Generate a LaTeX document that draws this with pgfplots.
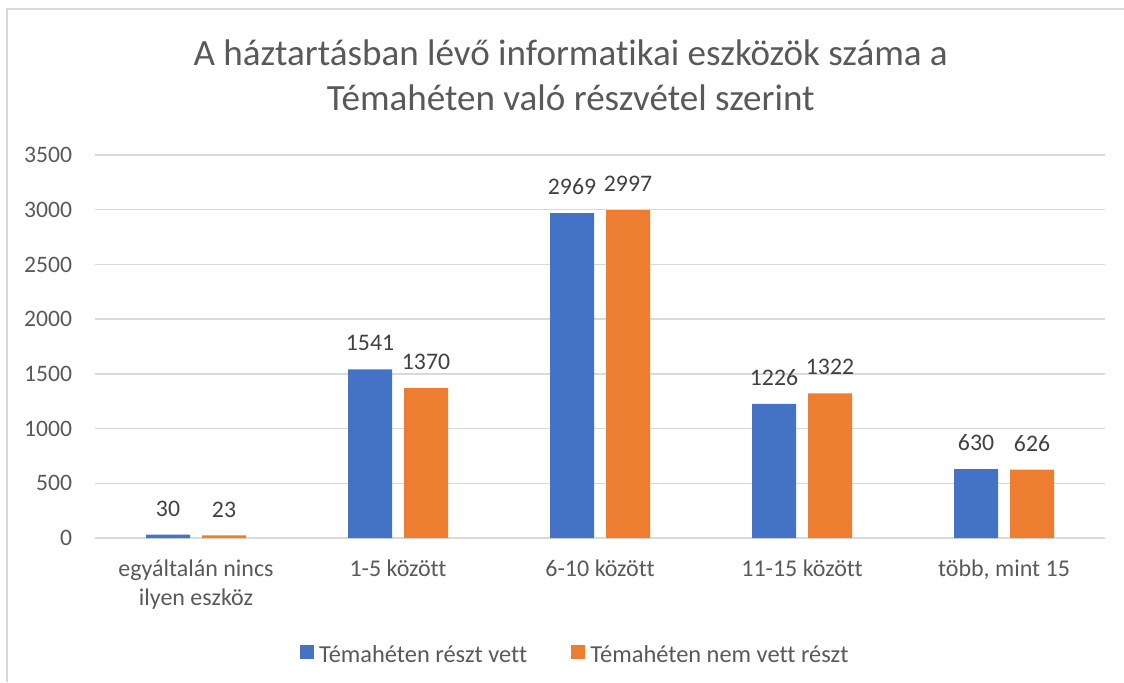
\documentclass[border=0pt]{standalone}
\usepackage{pgfplots}
\pgfplotsset{compat=1.18}
\usepackage{fontspec}
\setmainfont{Carlito}[Ligatures=NoCommon]
\definecolor{txt}{HTML}{595959}
\definecolor{lbl}{HTML}{404040}
\definecolor{grd}{HTML}{D9D9D9}
\definecolor{cblue}{HTML}{4472C4}
\definecolor{corange}{HTML}{ED7D31}
\begin{document}
\begin{tikzpicture}
\path[use as bounding box] (0pt,0pt) rectangle (843pt,-511.5pt);
\draw[grd, line width=1.5pt] (5.25pt,-511.5pt) -- (5.25pt,-6.75pt) -- (843pt,-6.75pt);
\node[anchor=base, text=txt, font=\fontsize{27.8}{32}\selectfont, inner sep=0pt] at (428pt,-48.75pt) {A háztartásban lévő informatikai eszközök száma a};
\node[anchor=base, text=txt, font=\fontsize{27.8}{32}\selectfont, inner sep=0pt] at (428pt,-82.5pt) {Témahéten való részvétel szerint};
\begin{axis}[
  at={(71.25pt,-403.5pt)}, anchor=south west,
  scale only axis, width=757.5pt, height=287.25pt,
  ymin=0, ymax=3500, ytick={0,500,...,3500},
  xmin=-0.5, xmax=4.5, xtick={0,1,2,3,4},
  xticklabels={{egyáltalán nincs\\ilyen eszköz},{1-5 között},{6-10 között},{11-15 között},{több, mint 15}},
  axis line style={draw=none},
  major tick length=0pt,
  ymajorgrids, grid style={grd, line width=1.1pt},
  /pgf/number format/assume math mode=true,
  /pgf/number format/set thousands separator={},
  yticklabel style={font=\fontsize{17.7}{21}\selectfont, text=txt, anchor=east, inner sep=0pt, xshift=-17pt},
  xticklabel style={font=\fontsize{18}{21.25}\selectfont, text=txt, anchor=north, inner sep=0pt, align=center, yshift=-16.5pt},
  ybar, bar width=33pt,
  nodes near coords,
  every node near coord/.append style={font=\fontsize{17.8}{21}\selectfont, text=lbl, anchor=south, inner sep=0pt, yshift=13.5pt},
  legend columns=2,
  legend style={at={(0.4757,-0.305)}, anchor=center, draw=none, fill=none,
    font=\fontsize{18.3}{21}\selectfont, text=txt,
    /tikz/every odd column/.append style={column sep=2pt},
    /tikz/every even column/.append style={column sep=31pt}},
  legend image code/.code={\fill[#1] (0pt,-0.31em) rectangle (10.5pt,0.31em+4.5pt);},
  clip=false,
]
\addplot[fill=cblue, draw=none, bar shift=-21pt] coordinates {(0,30) (1,1541) (2,2969) (3,1226) (4,630)};
\addplot[fill=corange, draw=none, bar shift=21pt] coordinates {(0,23) (1,1370) (2,2997) (3,1322) (4,626)};
\legend{Témahéten részt vett, Témahéten nem vett részt}
\end{axis}
\end{tikzpicture}
\end{document}
